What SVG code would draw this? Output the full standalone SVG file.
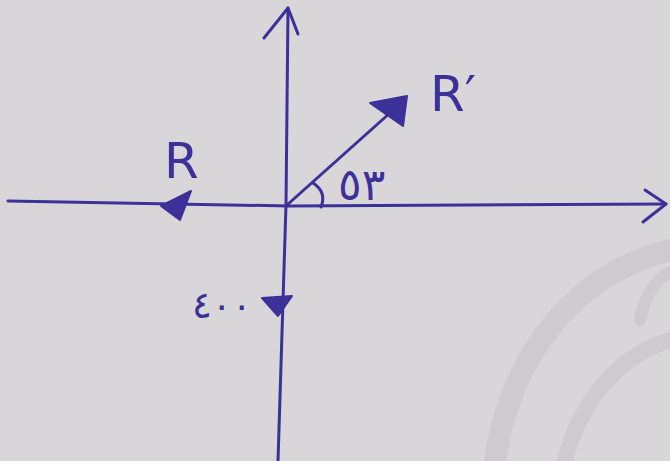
<svg xmlns="http://www.w3.org/2000/svg" width="670" height="461" viewBox="0 0 670 461">
<defs>
<style>
.ink{stroke:#3b3199;stroke-width:3;fill:none;stroke-linecap:round;stroke-linejoin:round}
.head{fill:#3b3199;stroke:#3b3199;stroke-width:2;stroke-linejoin:round}
.lbl{fill:#3b3199;font-family:"DejaVu Sans","Noto Sans",sans-serif}
.wm{stroke:#cecacf;fill:none;stroke-linecap:round}
</style>
</defs>
<rect width="670" height="461" fill="#d9d6d9"/>
<g id="watermark">
<path class="wm" stroke-width="22" d="M495,461 C510,360 570,275 670,250"/>
<path class="wm" stroke-width="16" d="M565,461 C580,400 620,355 670,340"/>
<path class="wm" stroke-width="12" d="M640,320 C645,295 655,280 670,272"/>
</g>
<g id="connectors">
<path id="x-axis" class="ink" d="M8,201 L290,206 L666,204"/>
<path id="x-arrow" class="ink" d="M645,190 L666,204 L643,222"/>
<path id="y-axis" class="ink" d="M288,8 L286,205 L278,461"/>
<path id="y-arrow" class="ink" d="M264,38 L288,8 L298,34"/>
<path id="r-prime" class="ink" d="M287,205 L400,104"/>
<polygon class="head" points="370,103 407,96 403,126"/>
<polygon id="r-head" class="head" points="161,206 191,191 180,220"/>
<polygon id="w-head" class="head" points="262,298 292,296 278,316"/>
<path id="angle" class="ink" d="M313,183 Q327,192 321,207"/>
</g>
<g id="label-R"><text class="lbl" x="164" y="178" font-size="50">R</text></g>
<g id="label-Rp"><text class="lbl" x="430" y="111" font-size="50">R′</text></g>
<g id="label-angle"><text class="lbl" x="338" y="200" font-size="44">٥٣</text></g>
<g id="label-w"><text class="lbl" x="192" y="318" font-size="37">٤٠٠</text></g>
</svg>
